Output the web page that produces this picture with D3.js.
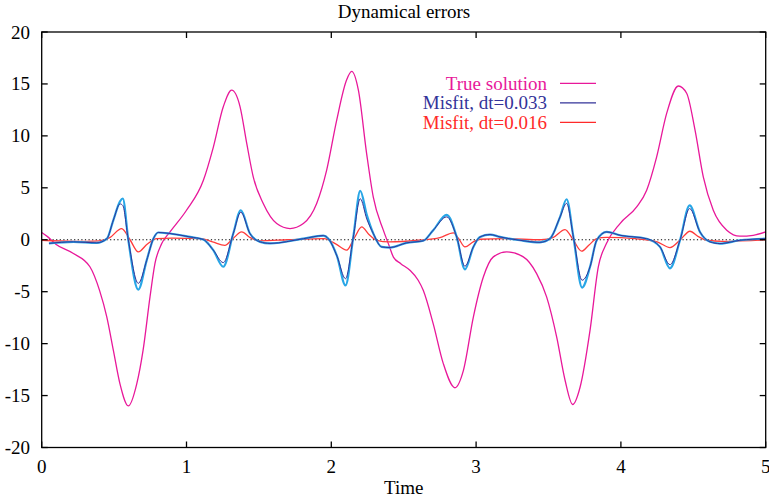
<!DOCTYPE html>
<html><head><meta charset="utf-8">
<script src="https://cdn.jsdelivr.net/npm/d3@7"></script>
<style>body{margin:0;background:#fff}svg{display:block}text{font-family:"Liberation Serif","Times New Roman",serif}</style>
</head><body>
<svg id="c" width="769" height="498"></svg>
<script>
const xTicks = [0,1,2,3,4,5];
const yTicks = [-20,-15,-10,-5,0,5,10,15,20];

const trueX = [0.0,0.04,0.1,0.216,0.333,0.4,0.449,0.495,0.541,0.598,0.656,0.70,0.748,0.782,0.829,0.886,1.0,1.116,1.185,1.254,1.312,1.37,1.416,1.461,1.53,1.623,1.715,1.807,1.899,1.968,2.037,2.106,2.141,2.187,2.244,2.29,2.36,2.40,2.43,2.48,2.543,2.60,2.635,2.704,2.773,2.854,2.912,2.981,3.05,3.119,3.211,3.326,3.418,3.487,3.557,3.614,3.667,3.718,3.787,3.844,3.90,3.994,4.109,4.178,4.247,4.316,4.397,4.454,4.512,4.569,4.638,4.731,4.822,4.914,5.0];
const trueY = [0.7,0.3,-0.45,-1.3,-2.6,-4.9,-7.4,-10.65,-13.9,-16.0,-13.9,-10.65,-5.5,-2.3,-0.37,0.75,2.84,5.7,8.9,12.8,14.4,12.8,9.27,6.05,3.49,1.56,1.08,1.56,3.49,6.7,11.5,15.4,16.2,14.4,8.3,4.1,0.9,-0.6,-1.7,-2.3,-2.94,-3.9,-4.87,-8.1,-11.9,-14.25,-12.6,-7.44,-3.59,-1.65,-1.17,-1.65,-3.26,-5.5,-9.4,-13.5,-15.86,-14.2,-8.7,-2.6,-0.37,1.56,3.16,4.77,7.98,12.16,14.8,14.1,10.55,6.05,2.84,0.92,0.34,0.43,0.75];

const misX = [0.05,0.22,0.38,0.45,0.495,0.541,0.56,0.598,0.667,0.725,0.771,0.805,0.886,1.024,1.116,1.185,1.254,1.323,1.375,1.438,1.508,1.577,1.807,1.945,1.98,2.04,2.098,2.152,2.2,2.245,2.29,2.348,2.405,2.52,2.635,2.704,2.797,2.866,2.923,2.981,3.027,3.096,3.165,3.303,3.441,3.51,3.58,3.625,3.672,3.732,3.787,3.833,3.902,3.994,4.178,4.27,4.339,4.408,4.475,4.546,4.615,4.684,4.822,5.0];
const mis033 = [-0.35,-0.2,-0.3,0.1,1.9,3.45,3.3,0.0,-4.2,-1.98,0.1,0.7,0.6,0.27,0.02,-1.0,-2.2,0.6,2.65,0.6,-0.2,-0.35,0.1,0.4,0.1,-1.6,-3.75,0.27,3.95,2.0,0.6,-0.69,-0.75,-0.3,-0.1,0.92,2.2,0.27,-2.55,-0.69,0.27,0.5,0.27,-0.05,-0.25,0.1,2.2,3.5,0.27,-3.9,-2.6,-0.05,0.75,0.43,0.1,-0.69,-2.4,-0.05,3.0,0.75,-0.2,-0.37,-0.05,0.1];
const misCyan = [-0.35,-0.2,-0.3,0.1,1.9,3.7,3.97,0.0,-4.8,-1.98,0.1,0.7,0.6,0.27,0.02,-1.0,-2.6,0.6,2.84,0.6,-0.2,-0.35,0.1,0.4,0.1,-1.6,-4.4,0.27,4.7,2.4,0.6,-0.69,-0.75,-0.3,-0.1,0.92,2.4,0.27,-2.85,-0.69,0.27,0.5,0.27,-0.05,-0.25,0.1,2.2,3.9,0.27,-4.6,-2.6,-0.05,0.75,0.43,0.1,-0.69,-2.75,-0.05,3.3,0.75,-0.2,-0.37,-0.05,0.1];

const redX = [0.0,0.22,0.4,0.47,0.552,0.61,0.667,0.73,0.794,0.9,1.1,1.18,1.265,1.32,1.381,1.44,1.51,1.7,1.95,2.03,2.106,2.16,2.21,2.26,2.313,2.4,2.6,2.75,2.843,2.88,2.923,2.98,3.03,3.2,3.45,3.53,3.614,3.67,3.729,3.78,3.833,3.9,4.1,4.25,4.339,4.41,4.477,4.535,4.592,4.7,5.0];
const redY = [-0.05,-0.15,-0.1,0.2,1.08,0.0,-1.17,-0.4,0.1,0.15,0.1,-0.2,-0.55,0.1,0.75,0.2,-0.1,0.0,0.1,-0.4,-1.0,0.2,1.23,0.5,-0.05,-0.2,-0.05,0.2,0.66,0.1,-0.69,-0.2,0.05,0.1,0.0,0.2,0.98,0.0,-1.1,-0.5,0.1,0.23,0.1,-0.2,-0.75,0.0,0.82,0.3,-0.05,-0.15,0.0];

const legendLabels = ["True solution","Misfit, dt=0.033","Misfit, dt=0.016"];
const legendColors = ["#e8189a","#333399","#ff2a2a"];

const svg = d3.select("#c");
const L=41.7, R=765.7, T=32, B=447.5;
const x = d3.scaleLinear().domain([0,5]).range([L,R]);
const y = d3.scaleLinear().domain([-20,20]).range([B,T]);
const FS = 19;

svg.append("line").attr("x1",x(0)).attr("x2",x(5)).attr("y1",y(0)).attr("y2",y(0))
  .attr("stroke","#000").attr("stroke-width",1).attr("stroke-dasharray","1.2,2.4");

const pts = (xs,ys)=>xs.map((v,i)=>[v,ys[i]]);
const lineSmooth = d3.line().x(d=>x(d[0])).y(d=>y(d[1])).curve(d3.curveMonotoneX);

const g = svg.append("g");
g.append("path").attr("d",lineSmooth(pts(trueX,trueY))).attr("fill","none").attr("stroke","#e8189a").attr("stroke-width",1.3);
g.append("path").attr("d",lineSmooth(pts(redX,redY))).attr("fill","none").attr("stroke","#ff3b3b").attr("stroke-width",1.3);
g.append("path").attr("d",lineSmooth(pts(misX,misCyan))).attr("fill","none").attr("stroke","#28a6e6").attr("stroke-width",2.2);
g.append("path").attr("d",lineSmooth(pts(misX,mis033))).attr("fill","none").attr("stroke","#333399").attr("stroke-width",1);

svg.append("rect").attr("x",L).attr("y",T).attr("width",R-L).attr("height",B-T)
  .attr("fill","none").attr("stroke","#000").attr("stroke-width",1.3);

const tl = 6;
yTicks.forEach(v=>{
  svg.append("line").attr("x1",L).attr("x2",L+tl).attr("y1",y(v)).attr("y2",y(v)).attr("stroke","#000").attr("stroke-width",1.3);
  svg.append("line").attr("x1",R).attr("x2",R-tl).attr("y1",y(v)).attr("y2",y(v)).attr("stroke","#000").attr("stroke-width",1.3);
  svg.append("text").attr("x",30).attr("y",y(v)+6.5).attr("text-anchor","end").attr("font-size",FS).text(v);
});
xTicks.forEach(v=>{
  svg.append("line").attr("x1",x(v)).attr("x2",x(v)).attr("y1",B).attr("y2",B-tl).attr("stroke","#000").attr("stroke-width",1.3);
  svg.append("line").attr("x1",x(v)).attr("x2",x(v)).attr("y1",T).attr("y2",T+tl).attr("stroke","#000").attr("stroke-width",1.3);
  svg.append("text").attr("x",x(v)).attr("y",473).attr("text-anchor","middle").attr("font-size",FS).text(v);
});

svg.append("text").attr("x",404).attr("y",18).attr("text-anchor","middle").attr("font-size",FS).text("Dynamical errors");
svg.append("text").attr("x",(L+R)/2).attr("y",494).attr("text-anchor","middle").attr("font-size",FS).text("Time");

legendLabels.forEach((lab,i)=>{
  const yy = 83.3 + i*19.5;
  svg.append("text").attr("x",547).attr("y",yy+6.5).attr("text-anchor","end").attr("font-size",FS).attr("fill",legendColors[i]).text(lab);
  svg.append("line").attr("x1",560).attr("x2",596).attr("y1",yy).attr("y2",yy).attr("stroke",legendColors[i]).attr("stroke-width",1.2);
});
</script>
</body></html>
